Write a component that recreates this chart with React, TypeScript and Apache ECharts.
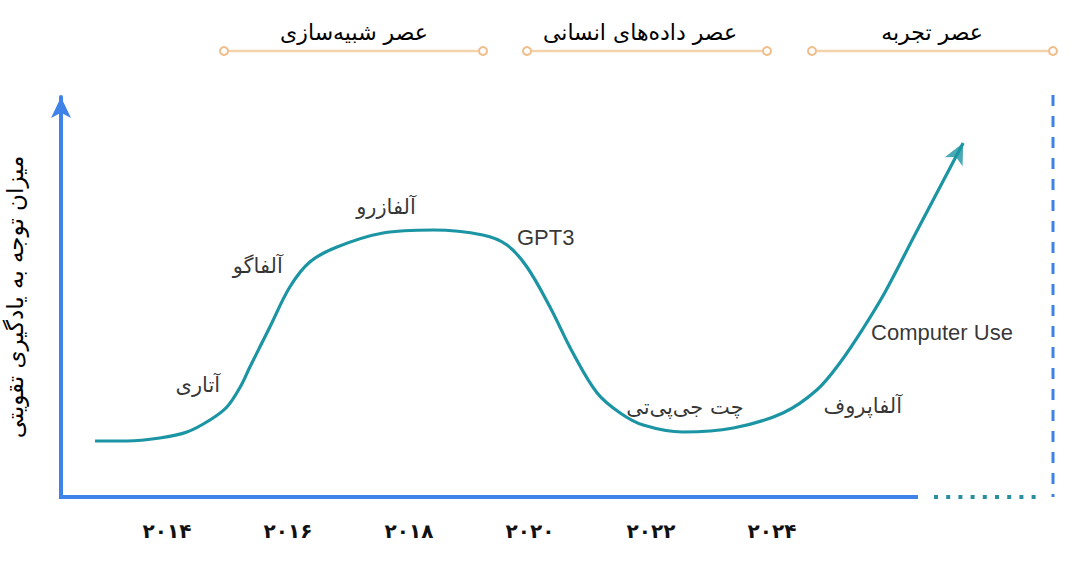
import React, { useEffect, useRef } from "react";
import * as echarts from "echarts";

// ---- data ----
const curveYears = [
  2012.81, 2013.34, 2013.88, 2014.33, 2014.71, 2014.99, 2015.21, 2015.37, 2015.7, 2016.03,
  2016.36, 2016.81, 2017.57, 2018.4, 2019.22, 2019.62, 2019.95, 2020.33, 2020.71, 2021.11,
  2021.49, 2021.87, 2022.53, 2023.36, 2024.18, 2024.74, 2025.12, 2025.5, 2025.87, 2026.36,
  2027.02, 2027.16,
];
const curveValues = [
  14, 14, 14.75, 16.25, 19.25, 22.5, 27.5, 32.5, 42.5, 52.5,
  58.75, 62.5, 66, 66.75, 65.5, 63, 57.5, 47.5, 36, 26,
  21, 18, 16.25, 17.25, 21, 26.75, 33.5, 42, 51.25, 65.5,
  84.5, 88.5,
];

const milestoneNames = ["آتاری", "آلفاگو", "آلفازرو", "GPT3", "چت جی‌پی‌تی", "آلفاپروف", "Computer Use"];
const milestoneYears = [2014.51, 2015.5, 2017.62, 2020.26, 2022.56, 2025.5, 2026.81];
const milestoneValues = [28, 57.75, 72.5, 65, 22.5, 22.75, 41.25];

const tickYears = [2014, 2016, 2018, 2020, 2022, 2024];
const tickLabels = ["۲۰۱۴", "۲۰۱۶", "۲۰۱۸", "۲۰۲۰", "۲۰۲۲", "۲۰۲۴"];

const eraNames = ["عصر شبیه‌سازی", "عصر داده‌های انسانی", "عصر تجربه"];

const yAxisTitle = "میزان توجه به یادگیری تقویتی";

// ---- layout / style ----
const W = 1080;
const H = 567;
const GRID_LEFT = 61;
const GRID_RIGHT_X = 1053;
const GRID_TOP = 97;
const AXIS_Y = 497;
const PX_PER_YEAR = 60.5;
const X_2014 = 167;
const X_MIN = 2014 - (X_2014 - GRID_LEFT) / PX_PER_YEAR;
const X_MAX = 2014 + (GRID_RIGHT_X - X_2014) / PX_PER_YEAR;

const BLUE = "#3f83e8";
const TEAL = "#1b95a3";
const ERA_LINE = "#f3d4aa";
const ERA_DOT = "#eebf8c";
const PERSIAN_FONT = "'DejaVu Sans', 'Noto Sans', sans-serif";
const LATIN_FONT = "'Liberation Sans', Arial, sans-serif";

const eraSpans = [
  [224, 483],
  [527, 767],
  [812, 1053],
];
const eraTextX = [354, 640, 932];

function buildGraphic() {
  const els: any[] = [];
  eraSpans.forEach(([a, b], i) => {
    els.push({
      type: "line",
      shape: { x1: a, y1: 51, x2: b, y2: 51 },
      style: { stroke: ERA_LINE, lineWidth: 2.5 },
    });
    [a, b].forEach((cx) =>
      els.push({
        type: "circle",
        shape: { cx, cy: 51, r: 4 },
        style: { fill: "#fff", stroke: ERA_DOT, lineWidth: 2 },
      })
    );
    els.push({
      type: "text",
      x: eraTextX[i],
      y: 32,
      style: {
        text: eraNames[i],
        font: `22px ${PERSIAN_FONT}`,
        fill: "#000",
        textAlign: "center",
        textVerticalAlign: "middle",
      },
    });
  });
  // x axis solid part
  els.push({
    type: "line",
    shape: { x1: GRID_LEFT - 2, y1: AXIS_Y, x2: 918, y2: AXIS_Y },
    style: { stroke: BLUE, lineWidth: 4 },
  });
  // dotted continuation
  els.push({
    type: "line",
    shape: { x1: 934, y1: AXIS_Y, x2: 1042, y2: AXIS_Y },
    style: { stroke: "#2a8e9e", lineWidth: 4, lineDash: [4, 8.2] },
  });
  // right dashed boundary
  els.push({
    type: "line",
    shape: { x1: GRID_RIGHT_X, y1: 95, x2: GRID_RIGHT_X, y2: AXIS_Y },
    style: { stroke: BLUE, lineWidth: 3, lineDash: [11, 10] },
  });
  return els;
}

export default function App() {
  const ref = useRef<HTMLDivElement>(null);

  useEffect(() => {
    if (!ref.current) return;
    const chart = echarts.init(ref.current, undefined, { renderer: "svg" });
    const curve = curveYears.map((x, i) => [x, curveValues[i]]);
    const last = curve[curve.length - 1];
    const milestones = milestoneNames.map((n, i) => {
      const latin = /[A-Za-z]/.test(n);
      return {
        name: n,
        value: [milestoneYears[i], milestoneValues[i]],
        label: {
          fontFamily: latin ? LATIN_FONT : PERSIAN_FONT,
          fontSize: latin ? 22 : 21,
        },
      };
    });

    chart.setOption({
      animation: false,
      backgroundColor: "#ffffff",
      grid: {
        left: GRID_LEFT,
        right: W - GRID_RIGHT_X,
        top: GRID_TOP,
        bottom: H - AXIS_Y,
        containLabel: false,
        outerBoundsMode: "none",
      },
      xAxis: {
        type: "value",
        min: X_MIN,
        max: X_MAX,
        axisLine: { show: false },
        axisTick: { show: false },
        splitLine: { show: false },
        axisLabel: {
          customValues: tickYears,
          margin: 24,
          fontSize: 20,
          fontWeight: "bold",
          color: "#111",
          fontFamily: PERSIAN_FONT,
          formatter: (v: number) => {
            const i = tickYears.indexOf(Math.round(v));
            return i >= 0 ? tickLabels[i] : "";
          },
        },
      },
      yAxis: {
        type: "value",
        min: 0,
        max: 100,
        name: yAxisTitle,
        nameLocation: "middle",
        nameRotate: 90,
        nameGap: 35,
        nameTextStyle: { fontSize: 23, color: "#000", fontFamily: PERSIAN_FONT },
        axisLine: {
          show: true,
          onZero: false,
          symbol: ["none", "arrow"],
          symbolSize: [15, 21],
          lineStyle: { color: BLUE, width: 4 },
        },
        axisTick: { show: false },
        axisLabel: { show: false },
        splitLine: { show: false },
      },
      graphic: buildGraphic(),
      series: [
        {
          type: "line",
          data: curve,
          smooth: 0.35,
          symbol: "none",
          lineStyle: { color: TEAL, width: 3.2 },
          z: 3,
        },
        {
          type: "scatter",
          data: [last],
          symbol: "arrow",
          symbolSize: [15, 21],
          symbolRotate: -27,
          itemStyle: { color: TEAL },
          z: 4,
        },
        {
          type: "scatter",
          data: milestones,
          symbolSize: 1,
          itemStyle: { color: "rgba(0,0,0,0)" },
          label: {
            show: true,
            position: "inside",
            formatter: "{b}",
            fontSize: 21,
            color: "#000",
          },
          z: 5,
        },
      ],
    });
    return () => chart.dispose();
  }, []);

  return (
    <div
      ref={ref}
      style={{ position: "fixed", left: 0, top: 0, width: W, height: H, background: "#fff" }}
    />
  );
}
